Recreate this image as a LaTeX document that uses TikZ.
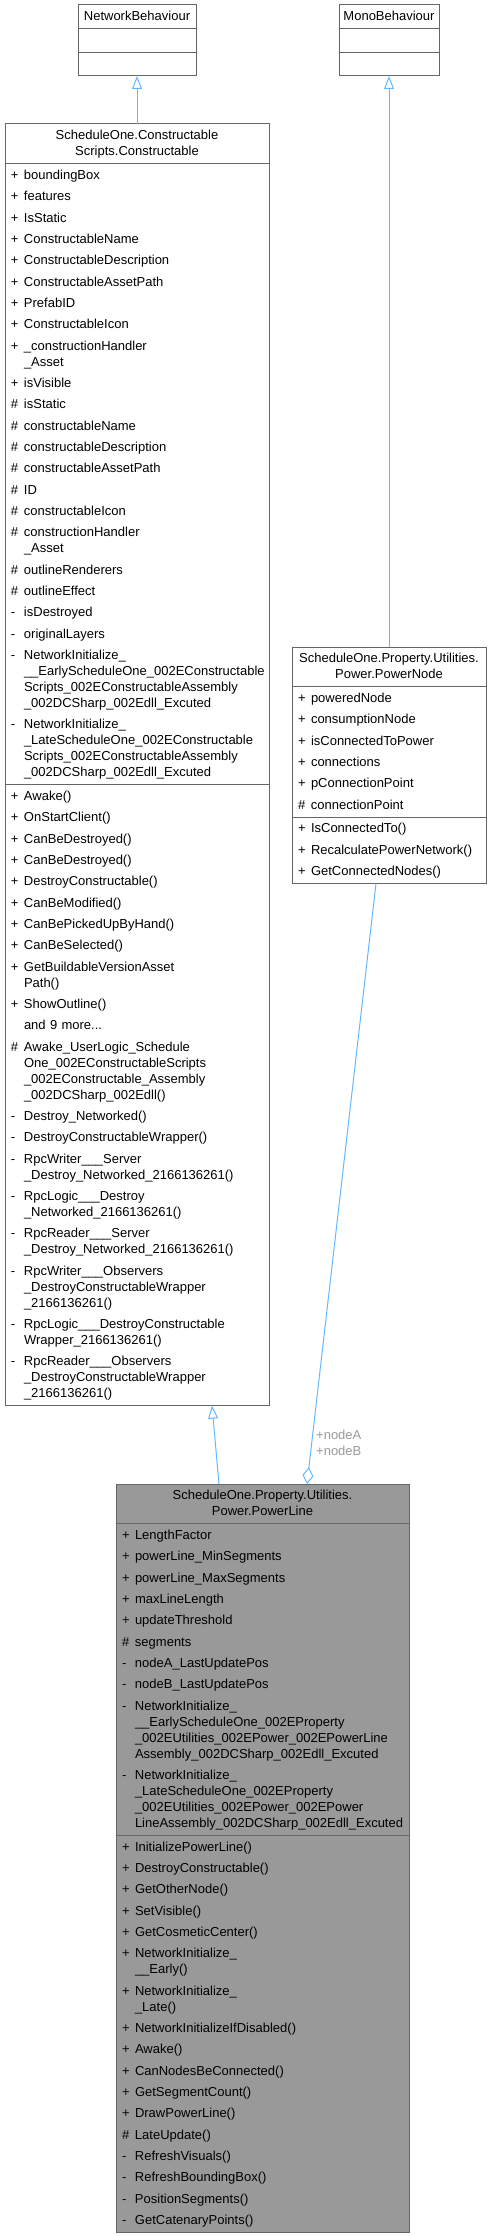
\documentclass[tikz,border=0pt]{standalone}
\usepackage{fontspec}
\setmainfont{Liberation Sans}
\usetikzlibrary{arrows.meta,shapes.multipart,calc}
\definecolor{edgeblue}{RGB}{99,184,255}
\definecolor{boxgray}{RGB}{102,102,102}
\definecolor{hifill}{RGB}{153,153,153}
\definecolor{rolegray}{RGB}{154,154,154}
\newcommand{\dstrut}{\rule[-3pt]{0pt}{12pt}}
\newcommand{\ctitle}[2]{\makebox[#1][c]{\renewcommand{\arraystretch}{0}\begin{tabular}[t]{@{}c@{}}\dstrut #2\end{tabular}}}
\newcommand{\mrow}[2]{\dstrut\makebox[9.75pt][l]{#1}\mbox{#2}}
\newcommand{\mcont}[1]{\dstrut\hspace*{9.75pt}\mbox{#1}}
\newcommand{\boxfont}{\fontsize{9.75pt}{12pt}\selectfont}
\tikzset{
	umlclass/.style={
		rectangle split,
		rectangle split parts=3,
		draw=boxgray,
		fill=white,
		line width=0.75pt,
		inner xsep=4.5pt,
		inner ysep=2.5pt,
		outer sep=0pt,
		anchor=north west,
		font=\boxfont
	},
	hiclass/.style={
		umlclass,
		fill=hifill
	},
	inherit/.style={draw=edgeblue,line width=0.75pt,-{Triangle[open,length=9.75pt,width=7.5pt]}},
	aggreg/.style={draw=edgeblue,line width=0.75pt,{Diamond[open,length=12.75pt,width=8.25pt]}-},
	rolelbl/.style={
		text=rolegray,
		align=left,
		inner sep=3pt,
		font=\boxfont
	}
}

\begin{document}
\begin{tikzpicture}[x=0.75pt,y=-0.75pt]
	\useasboundingbox (0,0) rectangle (491,2236);

	\node[umlclass,text width=79.5pt] (netbeh) at (78,5)
		{\ctitle{79.5pt}{NetworkBehaviour}
		\nodepart{two}\dstrut
		\nodepart{three}\dstrut};
	\node[umlclass,text width=66pt] (monobeh) at (339,5)
		{\ctitle{66pt}{MonoBehaviour}
		\nodepart{two}\dstrut
		\nodepart{three}\dstrut};

	\node[umlclass,text width=189pt] (constr) at (5,124)
		{\ctitle{189pt}{ScheduleOne.Constructable\\\dstrut Scripts.Constructable}
		\nodepart{two}
		\mrow{+}{boundingBox}\\[4pt]
		\mrow{+}{features}\\[4pt]
		\mrow{+}{IsStatic}\\[4pt]
		\mrow{+}{ConstructableName}\\[4pt]
		\mrow{+}{ConstructableDescription}\\[4pt]
		\mrow{+}{ConstructableAssetPath}\\[4pt]
		\mrow{+}{PrefabID}\\[4pt]
		\mrow{+}{ConstructableIcon}\\[4pt]
		\mrow{+}{\_constructionHandler}\\\mcont{\_Asset}\\[4pt]
		\mrow{+}{isVisible}\\[4pt]
		\mrow{\#}{isStatic}\\[4pt]
		\mrow{\#}{constructableName}\\[4pt]
		\mrow{\#}{constructableDescription}\\[4pt]
		\mrow{\#}{constructableAssetPath}\\[4pt]
		\mrow{\#}{ID}\\[4pt]
		\mrow{\#}{constructableIcon}\\[4pt]
		\mrow{\#}{constructionHandler}\\\mcont{\_Asset}\\[4pt]
		\mrow{\#}{outlineRenderers}\\[4pt]
		\mrow{\#}{outlineEffect}\\[4pt]
		\mrow{-}{isDestroyed}\\[4pt]
		\mrow{-}{originalLayers}\\[4pt]
		\mrow{-}{NetworkInitialize\_}\\\mcont{\_\_EarlyScheduleOne\_002EConstructable}\\\mcont{Scripts\_002EConstructableAssembly}\\\mcont{\_002DCSharp\_002Edll\_Excuted}\\[4pt]
		\mrow{-}{NetworkInitialize\_}\\\mcont{\_LateScheduleOne\_002EConstructable}\\\mcont{Scripts\_002EConstructableAssembly}\\\mcont{\_002DCSharp\_002Edll\_Excuted}
		\nodepart{three}
		\mrow{+}{Awake()}\\[4pt]
		\mrow{+}{OnStartClient()}\\[4pt]
		\mrow{+}{CanBeDestroyed()}\\[4pt]
		\mrow{+}{CanBeDestroyed()}\\[4pt]
		\mrow{+}{DestroyConstructable()}\\[4pt]
		\mrow{+}{CanBeModified()}\\[4pt]
		\mrow{+}{CanBePickedUpByHand()}\\[4pt]
		\mrow{+}{CanBeSelected()}\\[4pt]
		\mrow{+}{GetBuildableVersionAsset}\\\mcont{Path()}\\[4pt]
		\mrow{+}{ShowOutline()}\\[4pt]
		\mrow{}{and 9 more...}\\[4pt]
		\mrow{\#}{Awake\_UserLogic\_Schedule}\\\mcont{One\_002EConstructableScripts}\\\mcont{\_002EConstructable\_Assembly}\\\mcont{\_002DCSharp\_002Edll()}\\[4pt]
		\mrow{-}{Destroy\_Networked()}\\[4pt]
		\mrow{-}{DestroyConstructableWrapper()}\\[4pt]
		\mrow{-}{RpcWriter\_\_\_Server}\\\mcont{\_Destroy\_Networked\_2166136261()}\\[4pt]
		\mrow{-}{RpcLogic\_\_\_Destroy}\\\mcont{\_Networked\_2166136261()}\\[4pt]
		\mrow{-}{RpcReader\_\_\_Server}\\\mcont{\_Destroy\_Networked\_2166136261()}\\[4pt]
		\mrow{-}{RpcWriter\_\_\_Observers}\\\mcont{\_DestroyConstructableWrapper}\\\mcont{\_2166136261()}\\[4pt]
		\mrow{-}{RpcLogic\_\_\_DestroyConstructable}\\\mcont{Wrapper\_2166136261()}\\[4pt]
		\mrow{-}{RpcReader\_\_\_Observers}\\\mcont{\_DestroyConstructableWrapper}\\\mcont{\_2166136261()}};

	\node[umlclass,text width=136.5pt] (pnode) at (292,647)
		{\ctitle{136.5pt}{ScheduleOne.Property.Utilities.\\\dstrut Power.PowerNode}
		\nodepart{two}
		\mrow{+}{poweredNode}\\[4pt]
		\mrow{+}{consumptionNode}\\[4pt]
		\mrow{+}{isConnectedToPower}\\[4pt]
		\mrow{+}{connections}\\[4pt]
		\mrow{+}{pConnectionPoint}\\[4pt]
		\mrow{\#}{connectionPoint}
		\nodepart{three}
		\mrow{+}{IsConnectedTo()}\\[4pt]
		\mrow{+}{RecalculatePowerNetwork()}\\[4pt]
		\mrow{+}{GetConnectedNodes()}};

	\node[hiclass,text width=210.75pt] (pline) at (116,1484)
		{\ctitle{210.75pt}{ScheduleOne.Property.Utilities.\\\dstrut Power.PowerLine}
		\nodepart{two}
		\mrow{+}{LengthFactor}\\[4pt]
		\mrow{+}{powerLine\_MinSegments}\\[4pt]
		\mrow{+}{powerLine\_MaxSegments}\\[4pt]
		\mrow{+}{maxLineLength}\\[4pt]
		\mrow{+}{updateThreshold}\\[4pt]
		\mrow{\#}{segments}\\[4pt]
		\mrow{-}{nodeA\_LastUpdatePos}\\[4pt]
		\mrow{-}{nodeB\_LastUpdatePos}\\[4pt]
		\mrow{-}{NetworkInitialize\_}\\\mcont{\_\_EarlyScheduleOne\_002EProperty}\\\mcont{\_002EUtilities\_002EPower\_002EPowerLine}\\\mcont{Assembly\_002DCSharp\_002Edll\_Excuted}\\[4pt]
		\mrow{-}{NetworkInitialize\_}\\\mcont{\_LateScheduleOne\_002EProperty}\\\mcont{\_002EUtilities\_002EPower\_002EPower}\\\mcont{LineAssembly\_002DCSharp\_002Edll\_Excuted}
		\nodepart{three}
		\mrow{+}{InitializePowerLine()}\\[4pt]
		\mrow{+}{DestroyConstructable()}\\[4pt]
		\mrow{+}{GetOtherNode()}\\[4pt]
		\mrow{+}{SetVisible()}\\[4pt]
		\mrow{+}{GetCosmeticCenter()}\\[4pt]
		\mrow{+}{NetworkInitialize\_}\\\mcont{\_\_Early()}\\[4pt]
		\mrow{+}{NetworkInitialize\_}\\\mcont{\_Late()}\\[4pt]
		\mrow{+}{NetworkInitializeIfDisabled()}\\[4pt]
		\mrow{+}{Awake()}\\[4pt]
		\mrow{+}{CanNodesBeConnected()}\\[4pt]
		\mrow{+}{GetSegmentCount()}\\[4pt]
		\mrow{+}{DrawPowerLine()}\\[4pt]
		\mrow{\#}{LateUpdate()}\\[4pt]
		\mrow{-}{RefreshVisuals()}\\[4pt]
		\mrow{-}{RefreshBoundingBox()}\\[4pt]
		\mrow{-}{PositionSegments()}\\[4pt]
		\mrow{-}{GetCatenaryPoints()}};

	% generalisations
	\draw[inherit] (constr.north) -- (netbeh.south);
	\draw[inherit] (pnode.north) -- (monobeh.south);
	\draw[inherit] ($(pline.north)+(-43.5,0)$) -- ($(constr.south)+(75,0)$);

	% nodeA / nodeB
	\draw[aggreg] ($(pline.north)+(44.5,0)$) -- node[rolelbl,pos=0.068,anchor=west] (roles) {+nodeA\\+nodeB} ($(pnode.south)+(-13,0)$);
\end{tikzpicture}
\end{document}
